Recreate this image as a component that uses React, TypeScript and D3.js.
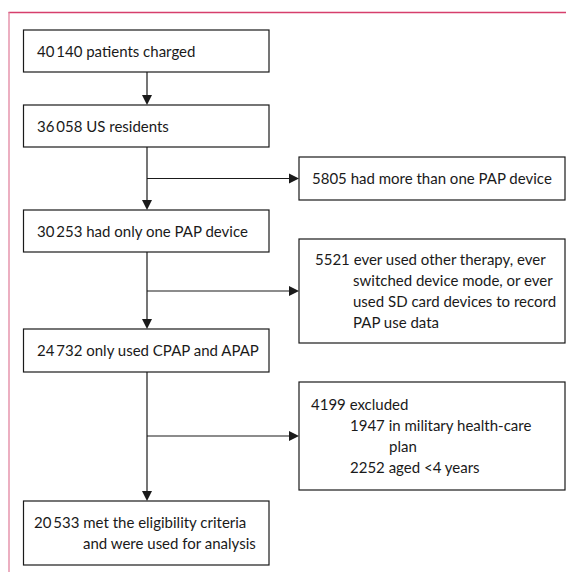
import React from "react";
import * as d3 from "d3";

// Main flow boxes (left column)
const mainLabels: string[][] = [
  ["40\u2009140 patients charged"],
  ["36\u2009058 US residents"],
  ["30\u2009253 had only one PAP device"],
  ["24\u2009732 only used CPAP and APAP"],
  ["20\u2009533 met the eligibility criteria", "and were used for analysis"],
];
const mainTops = [30, 105, 210, 329, 501];
const mainBottoms = [72, 147, 252, 372, 565];

// Exclusion boxes (right column): [indent level, text]
const exclLines: [number, string][][] = [
  [[0, "5805 had more than one PAP device"]],
  [
    [0, "5521 ever used other therapy, ever"],
    [1, "switched device mode, or ever"],
    [1, "used SD card devices to record"],
    [1, "PAP use data"],
  ],
  [
    [0, "4199 excluded"],
    [1, "1947 in military health-care"],
    [2, "plan"],
    [1, "2252 aged <4 years"],
  ],
];
const exclTops = [157, 239, 382];
const exclBottoms = [200, 343, 490];

const W = 566;
const H = 572;
const FONT = "Lato, 'Open Sans', sans-serif";

export default function App() {
  const x = d3.scaleLinear().domain([0, 1]).range([23.5, 269]);
  const xr = d3.scaleLinear().domain([0, 1]).range([299, 565]);
  const cx = 147;
  const fs = 15;
  const lh = 20.7;
  const arrow = (tx: number, ty: number, dir: "down" | "right") => {
    const s = 5, l = 10;
    const pts =
      dir === "down"
        ? [[tx - s, ty - l], [tx + s, ty - l], [tx, ty]]
        : [[tx - l, ty - s], [tx - l, ty + s], [tx, ty]];
    return <path d={d3.line()(pts as [number, number][]) + "Z"} fill="#1a1a1a" />;
  };
  return (
    <svg width={W} height={H} style={{ position: "absolute", left: 0, top: 0 }}>
      <rect x={0} y={0} width={W} height={H} fill="#fff" />
      <line x1={8.5} x2={W} y1={12.5} y2={12.5} stroke="#d63f6c" strokeWidth={1.6} />
      <line x1={9} x2={9} y1={12} y2={H} stroke="#e07a98" strokeWidth={1.2} />
      {/* vertical connectors */}
      {mainTops.slice(1).map((t, i) => (
        <g key={"v" + i}>
          <line x1={cx} x2={cx} y1={mainBottoms[i]} y2={t - 8} stroke="#1a1a1a" strokeWidth={1.2} />
          {arrow(cx, t, "down")}
        </g>
      ))}
      {/* horizontal branches */}
      {exclTops.map((t, i) => {
        const y = (t + exclBottoms[i]) / 2;
        return (
          <g key={"h" + i}>
            <line x1={cx} x2={xr(0) - 8} y1={y} y2={y} stroke="#1a1a1a" strokeWidth={1.2} />
            {arrow(xr(0), y, "right")}
          </g>
        );
      })}
      {/* main boxes */}
      {mainLabels.map((lines, i) => {
        const top = mainTops[i], bot = mainBottoms[i];
        const n = lines.length;
        const base0 = (top + bot) / 2 - ((n - 1) * lh) / 2 + 5.5;
        return (
          <g key={"m" + i}>
            <rect x={x(0)} y={top} width={x(1) - x(0)} height={bot - top} fill="#fff" stroke="#1a1a1a" strokeWidth={1.2} />
            {lines.map((s, j) => (
              <text key={j} x={j === 0 ? (n > 1 ? 34 : 37) : 83} y={base0 + j * lh} fontFamily={FONT} fontSize={fs} fill="#1a1a1a">
                {s}
              </text>
            ))}
          </g>
        );
      })}
      {/* exclusion boxes */}
      {exclLines.map((lines, i) => {
        const top = exclTops[i], bot = exclBottoms[i];
        const n = lines.length;
        const base0 = (top + bot) / 2 - ((n - 1) * lh) / 2 + 5.5;
        const x0 = i === 0 ? 312 : i === 1 ? 315 : 311;
        const indents = i === 1 ? [0, 38] : [0, 39, 78];
        return (
          <g key={"e" + i}>
            <rect x={xr(0)} y={top} width={xr(1) - xr(0)} height={bot - top} fill="#fff" stroke="#1a1a1a" strokeWidth={1.2} />
            {lines.map(([lvl, s], j) => (
              <text key={j} x={x0 + indents[lvl]} y={base0 + j * lh} fontFamily={FONT} fontSize={fs} fill="#1a1a1a">
                {s}
              </text>
            ))}
          </g>
        );
      })}
    </svg>
  );
}
